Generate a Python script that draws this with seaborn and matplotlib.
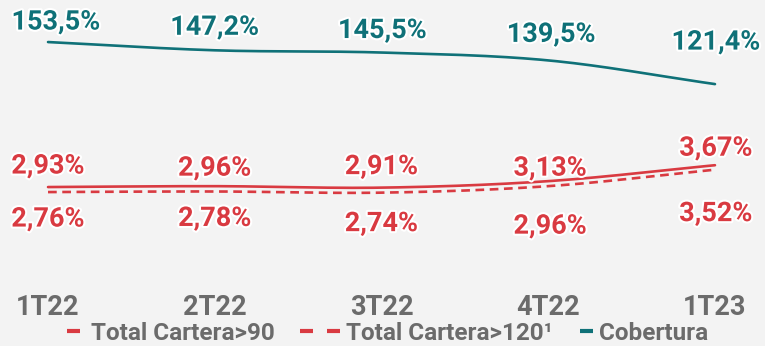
import numpy as np
import matplotlib
matplotlib.use("Agg")
import matplotlib.pyplot as plt
import matplotlib.patheffects as pe
from matplotlib.lines import Line2D
from matplotlib.legend_handler import HandlerBase
import seaborn as sns

# ---- data ----
quarters = ["1T22", "2T22", "3T22", "4T22", "1T23"]
cartera_90 = [2.93, 2.96, 2.91, 3.13, 3.67]
cartera_120 = [2.76, 2.78, 2.74, 2.96, 3.52]
cobertura = [153.5, 147.2, 145.5, 139.5, 121.4]
series_names = ["Total Cartera>90", "Total Cartera>120¹", "Cobertura"]

# label offsets in pixels (dx, dy) from each point
off_90 = [(0, 21), (0, 18), (0, 21), (2, 13), (1, 17)]
off_120 = [(0, -27), (0, -27), (0, -31), (2, -40), (1, -44)]
off_cob = [(8, 20), (0, 23), (1, 22), (3, 26), (1, 42)]

RED = "#d93a41"
TEAL = "#0f7178"
GRAY = "#6b6b6b"
BG = "#f3f3f3"

sns.set_theme(style="white")
plt.rcParams["font.family"] = ["Roboto", "DejaVu Sans"]
plt.rcParams["font.weight"] = "bold"


def smooth(values, n=40):
    """Catmull-Rom style smoothing through the given points."""
    y = np.asarray(values, dtype=float)
    k = len(y)
    m = np.zeros(k)
    m[1:-1] = (y[2:] - y[:-2]) / 2
    m[0] = y[1] - y[0]
    m[-1] = y[-1] - y[-2]
    xs, ys = [], []
    for i in range(k - 1):
        t = np.linspace(0, 1, n, endpoint=(i == k - 2))
        h00 = 2 * t**3 - 3 * t**2 + 1
        h10 = t**3 - 2 * t**2 + t
        h01 = -2 * t**3 + 3 * t**2
        h11 = t**3 - t**2
        ys.append(h00 * y[i] + h10 * m[i] + h01 * y[i + 1] + h11 * m[i + 1])
        xs.append(i + t)
    return np.concatenate(xs), np.concatenate(ys)


class ShortBars(HandlerBase):
    """Draws n short bars aligned to the right end of the handle box."""

    def __init__(self, n=1, seg=0.33, gap=0.35, **kw):
        super().__init__(**kw)
        self.n, self.seg, self.gap = n, seg, gap

    def create_artists(self, legend, orig_handle, xdescent, ydescent,
                       width, height, fontsize, trans):
        artists = []
        y = height / 2 - ydescent
        right = width - xdescent
        for k in range(self.n):
            x1 = right - k * width * (self.seg + self.gap)
            x0 = x1 - width * self.seg
            ln = Line2D([x0, x1], [y, y], color=orig_handle.get_color(),
                        linewidth=3, solid_capstyle="butt", transform=trans)
            artists.append(ln)
        return artists


fig = plt.figure(figsize=(7.65, 3.46), dpi=100, facecolor=BG)
ax = fig.add_axes([0, 0.1618, 1, 0.8382])
ax2 = ax.twinx()
for a in (ax, ax2):
    a.set_facecolor("none")
    for s in a.spines.values():
        s.set_visible(False)
ax.set_zorder(2)
ax2.set_zorder(1)

x = np.arange(len(quarters))

xs, ys = smooth(cartera_90)
sns.lineplot(x=xs, y=ys, ax=ax, color=RED, linewidth=1.9, sort=False)
xs, ys = smooth(cartera_120)
sns.lineplot(x=xs, y=ys, ax=ax, color=RED, linewidth=1.9, sort=False,
             linestyle=(0, (3.3, 2.1)))
xs, ys = smooth(cobertura)
sns.lineplot(x=xs, y=ys, ax=ax2, color=TEAL, linewidth=1.9, sort=False)

ax.set_xlim(-0.288, 4.30)
ax.set_ylim(-0.56, 9.27)
ax2.set_ylim(-35.8, 185.6)
ax2.set_yticks([])
ax.set_yticks([])
ax.set_xticks(x)
ax.set_xticklabels(quarters, fontsize=19.5, fontweight="bold", color=GRAY)
ax.tick_params(axis="x", length=0, pad=3)
ax.set_xlabel("")
ax.set_ylabel("")
ax2.set_ylabel("")

stroke = [pe.withStroke(linewidth=3, foreground="white")]


def fmt(v, dec):
    return f"{v:.{dec}f}".replace(".", ",") + "%"


for i, v in enumerate(cartera_90):
    ax.annotate(fmt(v, 2), (i, v), xytext=off_90[i], textcoords="offset pixels",
                ha="center", va="center", fontsize=19.5, fontweight="bold",
                color=RED, path_effects=stroke, zorder=5)
for i, v in enumerate(cartera_120):
    ax.annotate(fmt(v, 2), (i, v), xytext=off_120[i], textcoords="offset pixels",
                ha="center", va="center", fontsize=19.5, fontweight="bold",
                color=RED, path_effects=stroke, zorder=5)
for i, v in enumerate(cobertura):
    ax2.annotate(fmt(v, 1), (i, v), xytext=off_cob[i], textcoords="offset pixels",
                 ha="center", va="center", fontsize=19.5, fontweight="bold",
                 color=TEAL, path_effects=stroke, zorder=5)

# legend: one entry per series, placed along the bottom edge
leg_fs = 17.5
box_px = 40.0
handle_len = box_px / (leg_fs * 100 / 72)
entries = [
    (Line2D([], [], color=RED), series_names[0], ShortBars(1, 13 / 40), 40, 0.45),
    (Line2D([], [], color=RED), series_names[1], ShortBars(2, 13 / 40, 14 / 40), 300, 0.25),
    (Line2D([], [], color=TEAL), series_names[2], ShortBars(1, 13 / 40), 553, 0.25),
]
for handle, label, handler, left_px, tpad in entries:
    lg = fig.legend([handle], [label], handler_map={Line2D: handler},
                    loc="center left", bbox_to_anchor=(left_px / 765, 13 / 346),
                    frameon=False, handlelength=handle_len, handletextpad=tpad,
                    borderpad=0, borderaxespad=0,
                    prop={"size": leg_fs, "weight": "bold"})
    for t in lg.get_texts():
        t.set_color(GRAY)

fig.savefig("out.png", dpi=100, facecolor=BG)
